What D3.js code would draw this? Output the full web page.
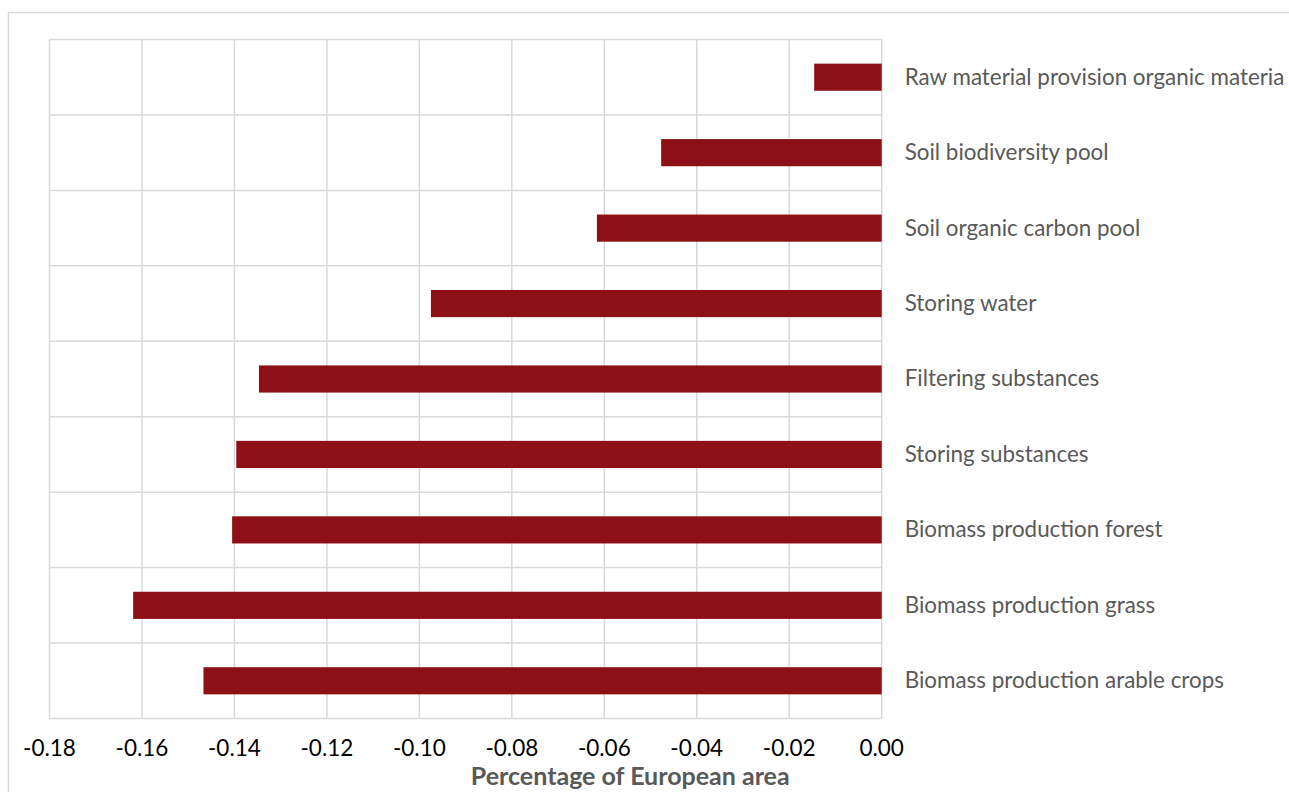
<!DOCTYPE html>
<html>
<head>
<meta charset="utf-8">
<script src="https://cdn.jsdelivr.net/npm/d3@7"></script>
<style>
  body { margin: 0; background: #fff; }
  svg { display: block; font-family: "Lato", "Open Sans", sans-serif; }
</style>
</head>
<body>
<div id="chart"></div>
<script>
// categories from top to bottom
const categories = [
    "Raw material provision organic materia",
    "Soil biodiversity pool",
    "Soil organic carbon pool",
    "Storing water",
    "Filtering substances",
    "Storing substances",
    "Biomass production forest",
    "Biomass production grass",
    "Biomass production arable crops"
];
const values = [-0.0146, -0.0477, -0.0616, -0.0975, -0.1347, -0.1396, -0.1405, -0.1619, -0.1467];
const xTicks = [-0.18, -0.16, -0.14, -0.12, -0.10, -0.08, -0.06, -0.04, -0.02, 0.00];
const xTitle = "Percentage of European area";

const svgWidth = 1289, svgHeight = 792;
const plotLeft = 49.5, plotRight = 881.7, plotTop = 39.5, plotBottom = 718.5;
const chartLeft = 8.5, chartRight = 1252; // the chart area, title is centred on it
const gridColor = "#d9d9d9";
const barColor = "#8e1017";

let svg = d3.select("#chart")
    .append("svg")
    .attr("width", svgWidth)
    .attr("height", svgHeight);

// outer chart border (runs off the right/bottom edge)
svg.append("rect")
    .attr("x", chartLeft)
    .attr("y", 12.5)
    .attr("width", svgWidth)
    .attr("height", svgHeight)
    .attr("fill", "none")
    .attr("stroke", gridColor)
    .attr("stroke-width", 1.5);

let x = d3.scaleLinear()
    .domain([-0.18, 0])
    .range([plotLeft, plotRight]);

let y = d3.scaleBand()
    .domain(categories)
    .range([plotTop, plotBottom])
    .paddingInner(0.64)
    .paddingOuter(0.32);

// vertical grid lines
svg.append("g")
    .selectAll("line")
    .data(xTicks)
    .enter()
    .append("line")
    .attr("x1", d => x(d))
    .attr("x2", d => x(d))
    .attr("y1", plotTop)
    .attr("y2", plotBottom)
    .attr("stroke", gridColor)
    .attr("stroke-width", 1.5);

// horizontal grid lines at band edges
let gap = (y.step() - y.bandwidth()) / 2;
let edges = categories.map(d => y(d) - gap).concat([plotBottom]);
svg.append("g")
    .selectAll("line")
    .data(edges)
    .enter()
    .append("line")
    .attr("x1", plotLeft)
    .attr("x2", plotRight)
    .attr("y1", d => d)
    .attr("y2", d => d)
    .attr("stroke", gridColor)
    .attr("stroke-width", 1.5);

// bars
svg.append("g")
    .selectAll("rect")
    .data(categories)
    .enter()
    .append("rect")
    .attr("x", (d, i) => x(values[i]))
    .attr("width", (d, i) => x(0) - x(values[i]))
    .attr("y", d => y(d))
    .attr("height", y.bandwidth())
    .attr("fill", barColor);

// category labels right of zero line
svg.append("g")
    .selectAll("text")
    .data(categories)
    .enter()
    .append("text")
    .attr("x", x(0) + 23)
    .attr("y", d => y(d) + y.bandwidth() / 2)
    .attr("dy", "0.33em")
    .attr("fill", "#595959")
    .style("font-size", "22.4px")
    .text(d => d);

// x axis tick labels
svg.append("g")
    .selectAll("text")
    .data(xTicks)
    .enter()
    .append("text")
    .attr("x", d => x(d))
    .attr("y", 756)
    .attr("text-anchor", "middle")
    .attr("fill", "#000")
    .style("font-size", "22.5px")
    .text(d => d3.format(".2f")(d).replace("−", "-"));

// axis title
svg.append("text")
    .attr("x", (chartLeft + chartRight) / 2)
    .attr("y", 785)
    .attr("text-anchor", "middle")
    .attr("fill", "#595959")
    .style("font-size", "25px")
    .style("font-weight", "bold")
    .text(xTitle);
</script>
</body>
</html>
